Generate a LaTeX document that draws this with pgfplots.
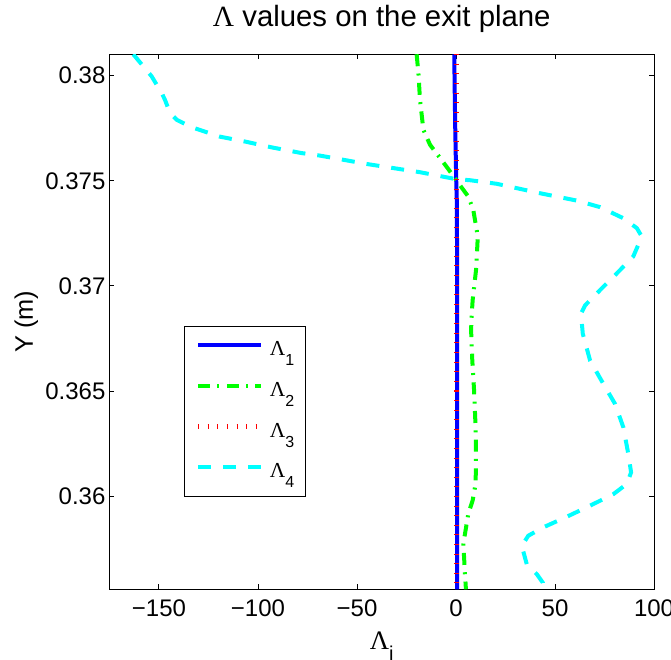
\documentclass[border=0pt]{standalone}
\usepackage{fontspec}
\setmainfont{Liberation Sans}
\newfontfamily\serif{Liberation Serif}
\usepackage{pgfplots}
\pgfplotsset{compat=1.18}

\definecolor{mblue}{rgb}{0,0,1}
\definecolor{mgreen}{rgb}{0,1,0}
\definecolor{mred}{rgb}{1,0,0}
\definecolor{mcyan}{rgb}{0,1,1}

% legend entry: serif Lambda with a low subscript, as MATLAB sets it
\newcommand{\lamsub}[1]{{\serif Λ}\raisebox{-7.5pt}{\fontsize{12}{14}\selectfont #1}}

\begin{document}
\begin{tikzpicture}
\begin{axis}[
  at={(0,0)}, anchor=south west,
  scale only axis, width=408.4pt, height=401.25pt,
  xmin=-175, xmax=100, ymin=0.35557, ymax=0.38102,
  xtick={-150,-100,-50,0,50,100},
  xticklabels={−150,−100,−50,0,50,100},
  ytick={0.36,0.365,0.37,0.375,0.38},
  yticklabels={0.36,0.365,0.37,0.375,0.38},
  tick align=inside, xtick pos=both, ytick pos=both,
  major tick length=3.75pt,
  tick style={black, line width=0.75pt},
  axis line style={black, line width=0.75pt},
  ticklabel style={font=\fontsize{18}{21}\selectfont},
  xticklabel style={yshift=-4pt},
  yticklabel style={xshift=0.5pt},
  title={{\serif Λ} values on the exit plane},
  title style={at={(axis description cs:0.5,1)}, anchor=base, yshift=14.5pt,
    font=\fontsize{22}{26}\selectfont},
  xlabel={{\serif\fontsize{20}{24}\selectfont Λ}\raisebox{-8pt}{\fontsize{15}{18}\selectfont i}},
  xlabel style={at={(axis description cs:0.5,0)}, anchor=base, yshift=-45.5pt},
  ylabel={Y (m)},
  ylabel style={at={(axis description cs:0,0.5)}, anchor=base, yshift=57.4pt,
    font=\fontsize{19}{22}\selectfont},
  legend style={at={(0.1368,0.492)}, anchor=north west, draw=black,
    line width=0.75pt, font=\fontsize{16}{19}\selectfont,
    inner xsep=8.5pt, inner ysep=4pt, row sep=2.85pt, column sep=5pt,
    nodes={inner sep=0pt, text height=17.75pt, text depth=10pt},
    cells={anchor=west}},
  legend image code/.code={\draw[#1] (0pt,4pt) -- (47pt,4pt);},
]
\addplot[mblue, line width=3pt] coordinates {
  (-0.9,0.38102) (-0.7,0.3795) (-0.4,0.3775) (-0.1,0.3760) (0.1,0.3750)
  (0.4,0.3740) (0.5,0.3720) (0.5,0.3650) (0.5,0.3600) (0.5,0.35557)
};
\addlegendentry{\lamsub{1}}
\addplot[mgreen, line width=3pt, dash pattern=on 9pt off 5.5pt on 1.5pt off 5.5pt] coordinates {
  (-19.9,0.38102) (-19.0,0.38013) (-18.2,0.37886) (-16.5,0.37743) (-13.1,0.37671)
  (-8.4,0.37613) (-3.9,0.37556) (1.2,0.37489) (6.2,0.37425) (8.7,0.37362)
  (11.0,0.37235) (10.1,0.37076) (8.4,0.36933) (7.9,0.36862) (7.6,0.36790)
  (8.2,0.36648) (9.1,0.36505) (9.8,0.36346) (10.1,0.36203) (9.9,0.36060)
  (8.4,0.35980) (6.2,0.35917) (3.7,0.35774) (4.5,0.35632) (5.0,0.35557)
};
\addlegendentry{\lamsub{2}}
\addplot[mred, line width=3.5pt, dash pattern=on 0.75pt off 6.45pt] coordinates {
  (0.4,0.38102) (0.4,0.3750) (0.4,0.3700) (0.4,0.3650) (0.4,0.3600) (0.4,0.35557)
};
\addlegendentry{\lamsub{3}}
\addplot[mcyan, line width=3pt, dash pattern=on 9.75pt off 9pt] coordinates {
  (-163,0.38102) (-153.7,0.37997) (-148.6,0.37917) (-147,0.37886) (-144.4,0.37822)
  (-141,0.37790) (-133.5,0.37755) (-119.2,0.37710) (-106.6,0.37687) (-93,0.37659)
  (-78,0.37632) (-68.7,0.37620) (-45,0.37580) (-18.2,0.37541) (0,0.37508)
  (7,0.37503) (20.5,0.37486) (42.4,0.37441) (61,0.37406) (72.7,0.37375)
  (84.5,0.37322) (91.3,0.37275) (93.8,0.37235) (89.5,0.37140) (81.2,0.37060)
  (72.7,0.36980) (65.2,0.36908) (63.1,0.36868) (64,0.36773) (67.7,0.36645)
  (74.4,0.36534) (80.3,0.36439) (84.5,0.36327) (87,0.36200) (88.4,0.36113)
  (86.2,0.36058) (79.5,0.36010) (67.7,0.35955) (55.9,0.35902) (44.1,0.35852)
  (36.5,0.35812) (33.2,0.35764) (35.7,0.35677) (40.8,0.35629) (43.8,0.35589)
  (44.1,0.35557)
};
\addlegendentry{\lamsub{4}}
\coordinate (bl) at (rel axis cs:0,0);
\end{axis}
\pgfresetboundingbox
\path[use as bounding box] ([shift={(-82.1pt,-53pt)}]bl) rectangle ([shift={(421.1pt,441.95pt)}]bl);
\end{tikzpicture}
\end{document}
